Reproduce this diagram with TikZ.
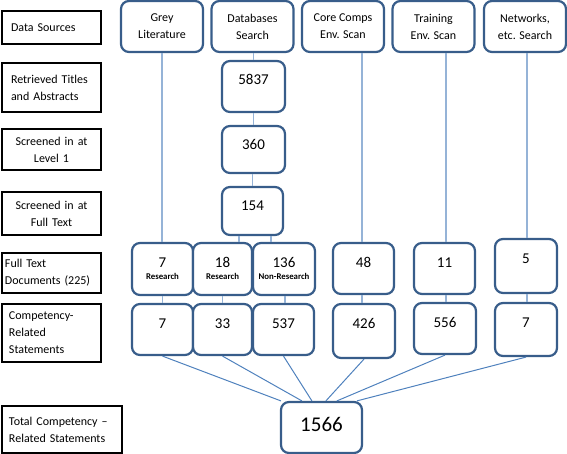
\documentclass[tikz,border=0pt]{standalone}
\usepackage{fontspec}
\setmainfont{Carlito}
\usetikzlibrary{positioning, calc}
\definecolor{boxblue}{HTML}{385D8A}
\definecolor{linkpale}{HTML}{95B3D7}
\definecolor{linkblue}{HTML}{4F81BD}
\tikzset{
    stagelabel/.style={rectangle, draw=black, line width=1.2pt, minimum width=99pt, inner xsep=0pt, text width=#1, align=left, font=\fontsize{12}{17}\selectfont},
    sourcebox/.style={rectangle, draw=boxblue, fill=white, rounded corners=8pt, line width=2.2pt, minimum width=82pt, minimum height=51pt, align=center, font=\fontsize{12}{17}\selectfont},
    countbox/.style={rectangle, draw=boxblue, fill=white, rounded corners=8pt, line width=2.2pt, minimum width=#1, inner sep=0pt, text height=24pt, text depth=27pt, align=center, font=\fontsize{15}{17}\selectfont},
    tagbox/.style={countbox=#1, text height=36pt, text depth=16pt},
    feedline/.style={draw=linkpale, line width=1.3pt},
    sumline/.style={draw=linkblue, line width=1pt}
}
\newcommand{\tagtext}[1]{{\fontsize{8.8}{10}\selectfont\bfseries #1}}

\begin{document}
\begin{tikzpicture}[x=1pt, y=-1pt]
\useasboundingbox (0,0) rectangle (567,454);

% stage labels
\node[stagelabel=81pt, minimum height=33pt] (lsrc) at (51.5,27.5) {Data Sources};
\node[stagelabel=81pt, minimum height=49pt] (lret) at (51.5,87.5) {Retrieved Titles\\and Abstracts};
\node[stagelabel=81pt, minimum height=41pt, align=center] (llev) at (51.5,149.5) {Screened in at\\Level 1};
\node[stagelabel=81pt, minimum height=43pt, align=center] (lfull) at (51.5,213.5) {Screened in at\\Full Text};
\node[stagelabel=93pt, minimum height=40pt] (ldoc) at (51.5,273) {Full Text\\Documents (225)};
\node[stagelabel=85pt, minimum height=58pt] (lstat) at (51.5,333) {Competency-\\Related\\Statements};
\node[stagelabel=106pt, minimum height=47pt, minimum width=120pt] (ltot) at (62,429.5) {Total Competency --\\Related Statements};

% data sources
\node[sourcebox] (grey) at (162,26.5) {Grey\\Literature};
\node[sourcebox] (dbs) at (252.5,26.5) {Databases\\Search};
\node[sourcebox] (core) at (343,26.5) {Core Comps\\Env. Scan};
\node[sourcebox] (train) at (433.5,26.5) {Training\\Env. Scan};
\node[sourcebox] (net) at (525,26.5) {Networks,\\etc. Search};

% database search chain
\node[countbox=63pt] (n5837) at (253.5,86.5) {5837};
\node[countbox=63pt, text depth=23pt] (n360) at (253.5,149.5) {360};
\node[countbox=61pt, text depth=24pt] (n154) at (252.5,211) {154};

% full text documents
\node[tagbox=61pt] (r7) at (162.5,269) {7\\[-5pt]\tagtext{Research}};
\node[tagbox=59pt] (r18) at (222.5,269) {18\\[-5pt]\tagtext{Research}};
\node[tagbox=62pt] (nr136) at (284,269) {136\\[-5pt]\tagtext{Non-Research}};
\node[countbox=61pt] (t48) at (363.5,268.5) {48};
\node[countbox=61pt] (t11) at (444.5,268.5) {11};
\node[countbox=62pt, text depth=30pt] (t5) at (526,266) {5};

% competency-related statements
\node[countbox=61pt] (c7) at (162.5,329.5) {7};
\node[countbox=59pt] (c33) at (222.5,329.5) {33};
\node[countbox=61pt] (c537) at (283.5,329.5) {537};
\node[countbox=62pt, text depth=30pt] (c426) at (364,331) {426};
\node[countbox=62pt] (c556) at (445,328.5) {556};
\node[countbox=62pt, text depth=29pt] (c7n) at (526,329.5) {7};

\node[countbox=81pt, text height=29pt, text depth=22pt, font=\fontsize{21}{24}\selectfont] (tot) at (321.5,427.5) {1566};

% connectors
\draw[feedline] (grey.south) -- (grey.south |- r7.north);
\draw[feedline] (n5837.north |- dbs.south) -- (n5837.north);
\draw[feedline] (n5837) -- (n360);
\draw[feedline] (n360.south -| n154) -- (n154.north);
\draw[feedline] ([xshift=-13.5pt]n154.south) -- ([xshift=-13.5pt]n154.south |- r18.north);
\draw[feedline] ([xshift=18.5pt]n154.south) -- ([xshift=18.5pt]n154.south |- nr136.north);
\draw[feedline] ([xshift=-1.5pt]t48.north |- core.south) -- ([xshift=-1.5pt]t48.north);
\draw[feedline] ([xshift=1.5pt]t11.north |- train.south) -- ([xshift=1.5pt]t11.north);
\draw[feedline] ([xshift=1pt]t5.north |- net.south) -- ([xshift=1pt]t5.north);
\draw[feedline] (r7) -- (c7);
\draw[feedline] (r18) -- (c33);
\draw[feedline] ([xshift=1pt]nr136.south) -- ([xshift=1pt]nr136.south |- c537.north);
\draw[feedline] ([xshift=-1.5pt]t48.south) -- ([xshift=-1.5pt]t48.south |- c426.north);
\draw[feedline] ([xshift=1.5pt]t11.south) -- ([xshift=1.5pt]t11.south |- c556.north);
\draw[feedline] ([xshift=1pt]t5.south) -- ([xshift=1pt]t5.south |- c7n.north);

\foreach \src/\dx in {c7/1, c33/22, c537/32, c426/46, c556/57, c7n/77}
    \draw[sumline] (\src.south) -- ([xshift=\dx pt]tot.north west);

\end{tikzpicture}
\end{document}
